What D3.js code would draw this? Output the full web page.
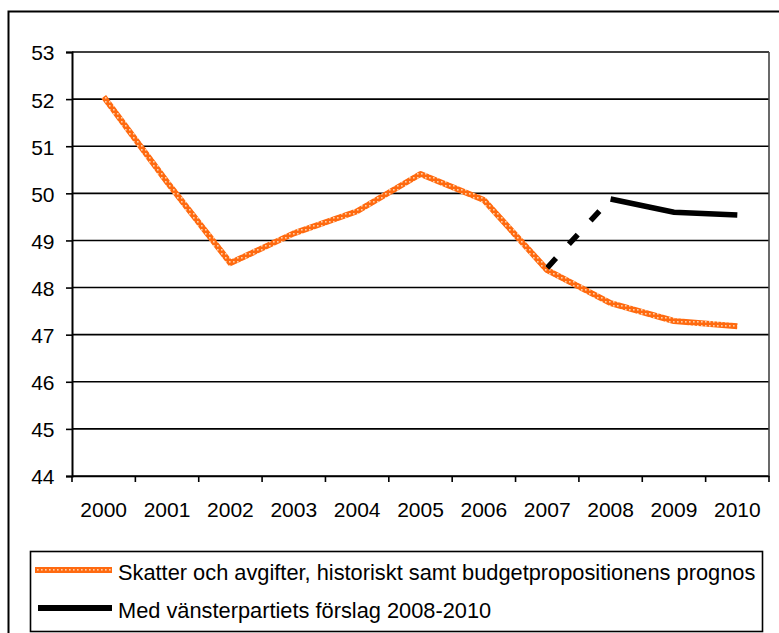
<!DOCTYPE html>
<html>
<head>
<meta charset="utf-8">
<script src="https://cdn.jsdelivr.net/npm/d3@7.9.0/dist/d3.min.js"></script>
<style>
  body { margin: 0; background: #fff; }
  svg { display: block; font-family: "Liberation Sans", Arial, sans-serif; }
</style>
</head>
<body>
<div id="chart"></div>
<script>
// data
const years = ['2000', '2001', '2002', '2003', '2004', '2005', '2006', '2007', '2008', '2009', '2010'];
const historic = [52.05, 50.24, 48.52, 49.15, 49.62, 50.41, 49.86, 48.37, 47.67, 47.29, 47.18];
const vpYears = ['2007', '2008', '2009', '2010'];
const vpValues = [48.42, 49.88, 49.6, 49.54];
const yTicks = [44, 45, 46, 47, 48, 49, 50, 51, 52, 53];
const legendLabels = [
  'Skatter och avgifter, historiskt samt budgetpropositionens prognos',
  'Med vänsterpartiets förslag 2008-2010'
];

const width = 779;
const height = 633;
const plot = { left: 72, right: 769, top: 52, bottom: 476 };

const svg = d3.select('#chart')
  .append('svg')
  .attr('width', width)
  .attr('height', height);

// orange dotted texture for the main line
const defs = svg.append('defs');
const pat = defs.append('pattern')
  .attr('id', 'orangeTex')
  .attr('patternUnits', 'userSpaceOnUse')
  .attr('width', 4)
  .attr('height', 4);
pat.append('rect').attr('width', 4).attr('height', 4).attr('fill', '#ff6a10');
pat.append('rect').attr('x', 1).attr('y', 1).attr('width', 1.6).attr('height', 1.6).attr('fill', '#ffd0a8');

// outer frame (cut off at right and bottom)
svg.append('rect')
  .attr('x', 8.5).attr('y', 11.5)
  .attr('width', 800).attr('height', 700)
  .attr('fill', 'none')
  .attr('stroke', '#000')
  .attr('stroke-width', 2);

const x = d3.scaleBand().domain(years).range([plot.left, plot.right]).padding(0);
const y = d3.scaleLinear().domain([44, 53]).range([plot.bottom, plot.top]);
const cx = (d) => x(d) + x.bandwidth() / 2;

// gridlines
svg.append('g')
  .selectAll('line')
  .data(yTicks)
  .join('line')
  .attr('x1', plot.left)
  .attr('x2', plot.right)
  .attr('y1', (d) => y(d))
  .attr('y2', (d) => y(d))
  .attr('stroke', '#000')
  .attr('stroke-width', 1.6);

// right border of plot area
svg.append('line')
  .attr('x1', plot.right).attr('x2', plot.right)
  .attr('y1', plot.top).attr('y2', plot.bottom)
  .attr('stroke', '#444')
  .attr('stroke-width', 1.6);

// y axis
const yAxis = svg.append('g')
  .attr('transform', `translate(${plot.left},0)`)
  .call(d3.axisLeft(y).tickValues(yTicks).tickSize(6).tickPadding(11.5).tickFormat(d3.format('d')));
yAxis.select('.domain').attr('stroke', '#000').attr('stroke-width', 2);
yAxis.selectAll('.tick line').attr('stroke', '#000').attr('stroke-width', 1.6);
yAxis.selectAll('.tick text')
  .attr('font-size', 21)
  .attr('dy', '0.38em')
  .attr('font-family', '"Liberation Sans", Arial, sans-serif')
  .attr('fill', '#000');

// x axis, ticks sit between categories
const xAxis = svg.append('g')
  .attr('transform', `translate(0,${plot.bottom})`)
  .call(d3.axisBottom(x).tickSize(0).tickSizeOuter(0).tickPadding(26));
xAxis.select('.domain').attr('stroke', '#000').attr('stroke-width', 1.6);
xAxis.selectAll('.tick text')
  .attr('font-size', 21)
  .attr('font-family', '"Liberation Sans", Arial, sans-serif')
  .attr('fill', '#000');
xAxis.selectAll('.tick line')
  .attr('x1', -x.bandwidth() / 2)
  .attr('x2', -x.bandwidth() / 2)
  .attr('y2', 6)
  .attr('stroke', '#000')
  .attr('stroke-width', 1.6);
xAxis.append('line')
  .attr('x1', plot.right).attr('x2', plot.right)
  .attr('y1', 0).attr('y2', 6)
  .attr('stroke', '#000')
  .attr('stroke-width', 1.6);

// lines
const line = d3.line().x((d) => cx(d[0])).y((d) => y(d[1]));
const histPts = years.map((yr, i) => [yr, historic[i]]);
const vpPts = vpYears.map((yr, i) => [yr, vpValues[i]]);

svg.append('path')
  .attr('d', line(histPts))
  .attr('fill', 'none')
  .attr('stroke', 'url(#orangeTex)')
  .attr('stroke-width', 6)
  .attr('stroke-linejoin', 'round');

svg.append('path')
  .attr('d', line(vpPts.slice(0, 2)))
  .attr('fill', 'none')
  .attr('stroke', '#000')
  .attr('stroke-width', 5.5)
  .attr('stroke-dasharray', '13,19');

svg.append('path')
  .attr('d', line(vpPts.slice(1)))
  .attr('fill', 'none')
  .attr('stroke', '#000')
  .attr('stroke-width', 5.5);

// legend
const legend = svg.append('g');
legend.append('rect')
  .attr('x', 30.5).attr('y', 551.5)
  .attr('width', 732).attr('height', 80)
  .attr('fill', '#fff')
  .attr('stroke', '#000')
  .attr('stroke-width', 1.6);

const legendStyles = [
  { stroke: 'url(#orangeTex)', width: 6, x1: 35, ly: 570 },
  { stroke: '#000', width: 6, x1: 38, ly: 608 }
];
legendLabels.forEach((label, i) => {
  const s = legendStyles[i];
  legend.append('line')
    .attr('x1', s.x1).attr('x2', 112)
    .attr('y1', s.ly).attr('y2', s.ly)
    .attr('stroke', s.stroke)
    .attr('stroke-width', s.width);
  legend.append('text')
    .attr('x', 118)
    .attr('y', s.ly + 10)
    .attr('font-size', 21.8)
    .attr('fill', '#000')
    .text(label);
});
</script>
</body>
</html>
